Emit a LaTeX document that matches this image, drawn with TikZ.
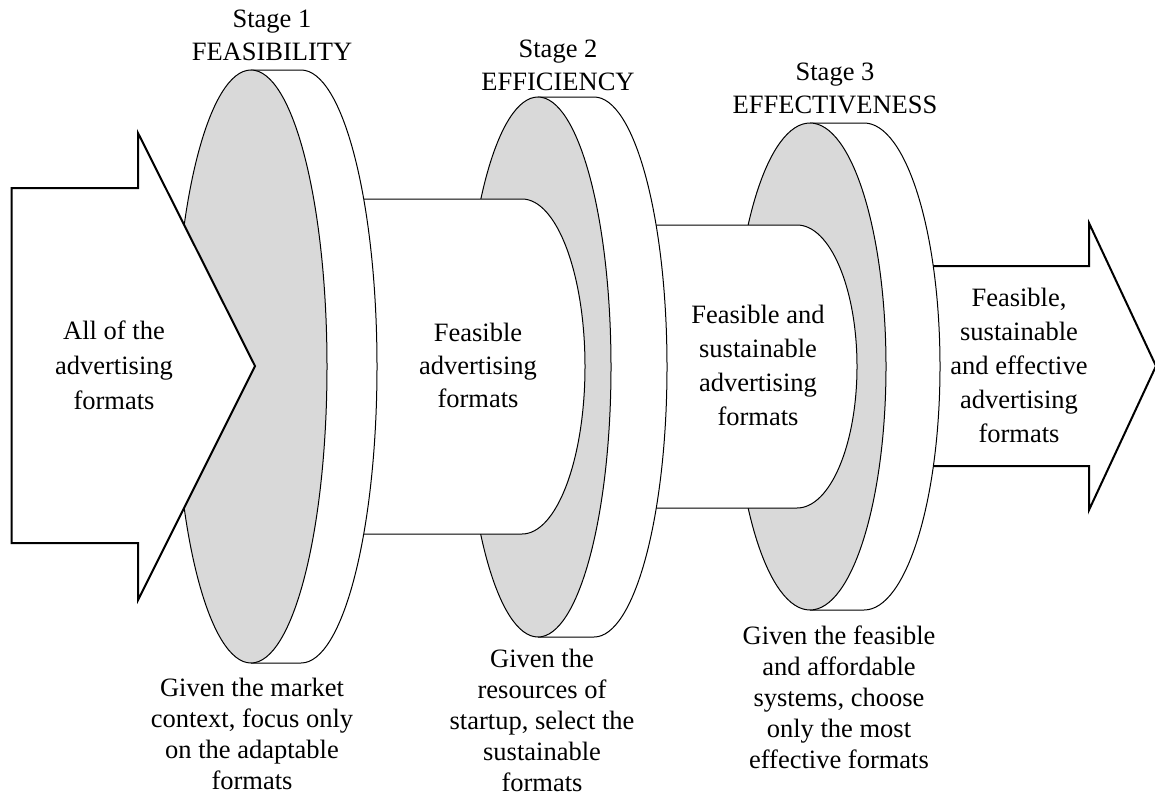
\documentclass[tikz,border=0pt]{standalone}
\usepackage{fontspec}
\setmainfont{Liberation Serif}
\definecolor{diskgray}{RGB}{217,217,217}
\tikzset{
  edge/.style={draw=black, line width=1pt},
  frontface/.style={fill=diskgray, draw=black, line width=1pt},
  bigarrow/.style={fill=white, draw=black, line width=2pt, line join=miter},
  lbl/.style={font=\fontsize{26.5}{33}\selectfont, align=center, inner sep=0pt},
  lblb/.style={font=\fontsize{26.5}{31}\selectfont, align=center, inner sep=0pt},
}
% disk: front x, back x, centre y, x radius, y radius
\newcommand\mydisk[5]{%
  \fill[white] (#1,#3-#5) -- (#2,#3-#5) arc[start angle=-90,end angle=90,x radius=#4,y radius=#5] -- (#1,#3+#5) -- cycle;
  \draw[edge] (#1,#3-#5) -- (#2,#3-#5) arc[start angle=-90,end angle=90,x radius=#4,y radius=#5] -- (#1,#3+#5);
  \path[frontface] (#1,#3) ellipse[x radius=#4,y radius=#5];
}
% cylinder: left x, cap x, centre y, cap x radius, half height
\newcommand\mycyl[5]{%
  \path[fill=white, edge] (#1,#3-#5) -- (#2,#3-#5) arc[start angle=-90,end angle=90,x radius=#4,y radius=#5] -- (#1,#3+#5) -- cycle;
}
\begin{document}
\begin{tikzpicture}[x=1pt,y=-1pt]
\useasboundingbox (0,0) rectangle (1155,800);
% right arrow
\path[bigarrow] (900,266) -- (1089,266) -- (1089,223) -- (1156,366) -- (1089,510) -- (1089,466) -- (900,466) -- cycle;
% stage 3 disk
\mydisk{810}{864}{366.5}{76}{243.5}
% cylinder 2
\mycyl{590}{797}{366.5}{60}{141.5}
% stage 2 disk
\mydisk{538}{594}{367}{73}{270}
% cylinder 1
\mycyl{300}{522}{366.5}{63}{167.5}
% stage 1 disk
\mydisk{251}{301}{366.5}{76}{296.5}
% left arrow
\path[bigarrow] (11.5,188) -- (138,188) -- (138,133) -- (255,366) -- (138,600) -- (138,543) -- (11.5,543) -- cycle;

% labels
\node[lbl] (h1) at (272,35.5) {Stage 1\\FEASIBILITY};
\node[lbl] (h2) at (558,65) {Stage 2\\EFFICIENCY};
\node[lbl] (h3) at (835,88.5) {Stage 3\\EFFECTIVENESS};
\node[lbl, font=\fontsize{26.5}{35}\selectfont] (t0) at (114,365) {All of the\\advertising\\formats};
\node[lbl] (t1) at (478,365) {Feasible\\advertising\\formats};
\node[lbl, font=\fontsize{26.5}{34}\selectfont] (t2) at (758,365) {Feasible and\\sustainable\\advertising\\formats};
\node[lbl, font=\fontsize{26.5}{34}\selectfont] (t3) at (1019,365) {Feasible,\\sustainable\\and effective\\advertising\\formats};
\node[lblb] (b1) at (252,734) {Given the market\\context, focus only\\on the adaptable\\formats};
\node[lblb] (b2) at (542,720.5) {Given the\\resources of\\startup, select the\\sustainable\\formats};
\node[lblb] (b3) at (839,697.5) {Given the feasible\\and affordable\\systems, choose\\only the most\\effective formats};
\end{tikzpicture}
\end{document}
